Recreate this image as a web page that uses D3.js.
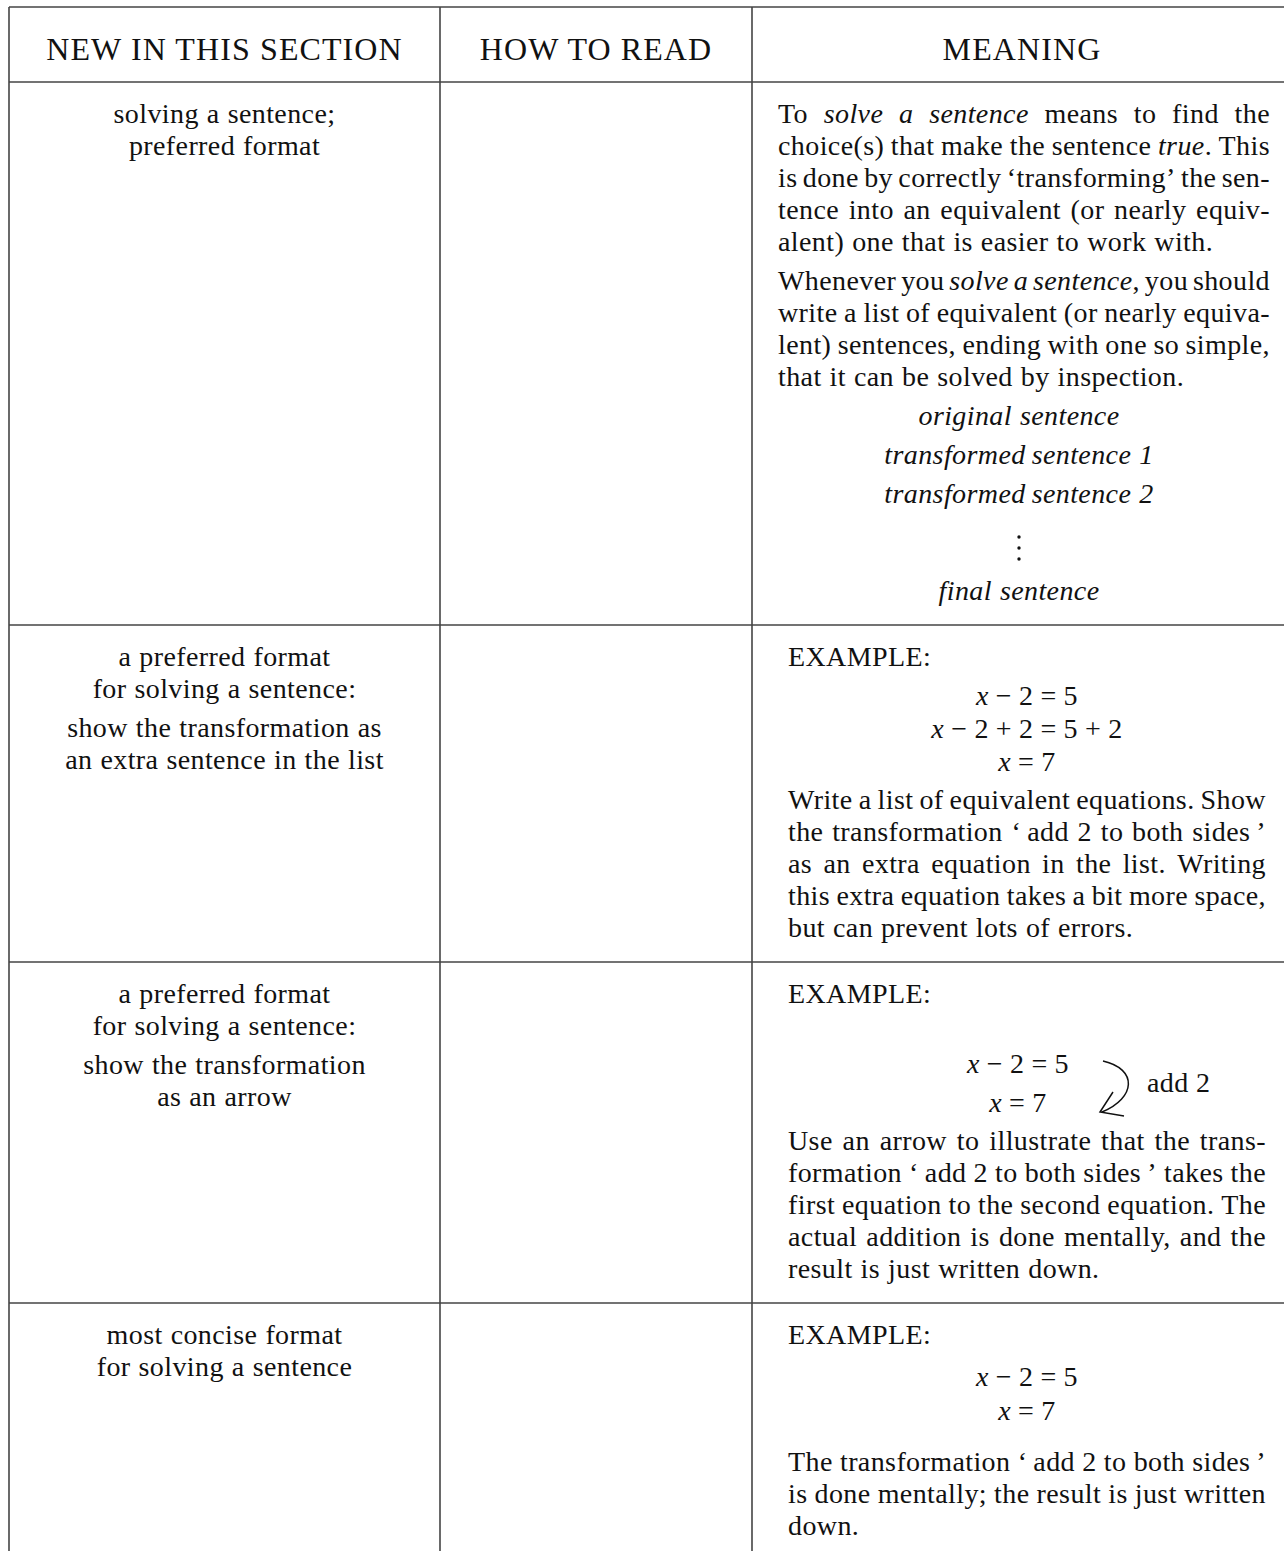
<!DOCTYPE html>
<html>
<head>
<meta charset="utf-8">
<script src="https://cdn.jsdelivr.net/npm/d3@7"></script>
<style>
  html, body { margin: 0; padding: 0; background: #fff; }
  svg { display: block; }
</style>
</head>
<body>
<div id="table"></div>
<script>
// ---- content ----
const headers = ["NEW IN THIS SECTION", "HOW TO READ", "MEANING"];

// left column: one entry per row, each a list of paragraphs (lines)
const newItems = [
    [["solving a sentence;", "preferred format"]],
    [["a preferred format", "for solving a sentence:"], ["show the transformation as", "an extra sentence in the list"]],
    [["a preferred format", "for solving a sentence:"], ["show the transformation", "as an arrow"]],
    [["most concise format", "for solving a sentence"]]
];

const howToRead = ["", "", "", ""];

// row 1 of the meaning column (*...* = italic)
const meaningParagraphs = [
    ["To *solve a sentence* means to find the",
     "choice(s) that make the sentence *true*. This",
     "is done by correctly ‘transforming’ the sen-",
     "tence into an equivalent (or nearly equiv-",
     "alent) one that is easier to work with."],
    ["Whenever you *solve a sentence*, you should",
     "write a list of equivalent (or nearly equiva-",
     "lent) sentences, ending with one so simple,",
     "that it can be solved by inspection."]
];
const sentenceList = ["*original sentence*", "*transformed\u2009sentence 1*", "*transformed\u2009sentence 2*", "VDOTS", "*final sentence*"];

// rows 2-4 of the meaning column
const exampleLabel = "EXAMPLE:";
const exampleEquations = [
    ["*x* − 2 = 5", "*x* − 2 + 2 = 5 + 2", "*x* = 7"],
    ["*x* − 2 = 5", "*x* = 7"],
    ["*x* − 2 = 5", "*x* = 7"]
];
const arrowLabel = "add 2";
const exampleNotes = [
    ["Write a list of equivalent equations. Show",
     "the transformation ‘\u2009add 2 to both sides\u2009’",
     "as an extra equation in the list. Writing",
     "this extra equation takes a bit more space,",
     "but can prevent lots of errors."],
    ["Use an arrow to illustrate that the trans-",
     "formation ‘\u2009add 2 to both sides\u2009’ takes the",
     "first equation to the second equation. The",
     "actual addition is done mentally, and the",
     "result is just written down."],
    ["The transformation ‘\u2009add 2 to both sides\u2009’",
     "is done mentally; the result is just written",
     "down."]
];

// ---- layout ----
const W = 1284, H = 1551;
const FONT = "'Liberation Serif', 'Times New Roman', serif";
const SIZE = 28, LS = 0.4, SPACE = 8;
const LINE = 32, PAR = 39, FIRST = 41, BOTTOM = 25;
const colX = [9, 440, 752, 1292];
const tableTop = 7, headerBottom = 82, headerBase = 60;
const row1Text = [778, 1270];
const exText = [788, 1266];
const exampleSpacing = [
    {eqGap: 39, eqStep: 33, noteGap: 38, eqCx: 1027, arrow: false},
    {eqGap: 70, eqStep: 39, noteGap: 38, eqCx: 1018, arrow: true},
    {eqGap: 42, eqStep: 34, noteGap: 51, eqCx: 1027, arrow: false}
];

const svg = d3.select("#table").append("svg")
    .attr("width", W)
    .attr("height", H)
    .style("font-family", FONT)
    .style("fill", "#111");

const linesG = svg.append("g")
    .attr("stroke", "#444")
    .attr("stroke-width", 1.6)
    .attr("fill", "none");
const textG = svg.append("g")
    .attr("font-size", SIZE)
    .attr("letter-spacing", LS);

function parseLine(str) {
    const words = [];
    let it = false, word = [], seg = "";
    const flush = () => { if (seg) { word.push({t: seg, it}); seg = ""; } };
    for (const ch of str) {
        if (ch === "*") { flush(); it = !it; }
        else if (ch === " ") { flush(); if (word.length) words.push(word); word = []; }
        else seg += ch;
    }
    flush();
    if (word.length) words.push(word);
    return words;
}

// draws one line word by word so it can be justified like the source
function drawLine(str, x0, x1, y, align, space = SPACE) {
    const words = parseLine(str);
    const nodes = words.map(w => {
        const t = textG.append("text").attr("y", y);
        w.forEach(s => t.append("tspan")
            .attr("font-style", s.it ? "italic" : null)
            .text(s.t));
        return t;
    });
    const widths = nodes.map(n => n.node().getComputedTextLength());
    const sum = d3.sum(widths);
    let gap = space, x = x0;
    if (align === "justify" && words.length > 1) {
        gap = (x1 - x0 - sum) / (words.length - 1);
    } else if (align === "center") {
        x = (x0 + x1) / 2 - (sum + gap * (words.length - 1)) / 2;
    }
    nodes.forEach((n, i) => { n.attr("x", x); x += widths[i] + gap; });
}

function drawParagraph(lines, x0, x1, y) {
    lines.forEach((l, i) => drawLine(l, x0, x1, y + i * LINE, i < lines.length - 1 ? "justify" : "left"));
    return y + (lines.length - 1) * LINE;
}

// ---- header ----
headers.forEach((h, i) => {
    textG.append("text")
        .attr("x", (colX[i] + colX[i + 1]) / 2)
        .attr("y", headerBase)
        .attr("text-anchor", "middle")
        .attr("font-size", 32)
        .attr("letter-spacing", 1.1)
        .text(h);
});

// ---- meaning column, row 1 ----
const rowTops = [headerBottom];
let y = headerBottom + FIRST;
meaningParagraphs.forEach((p, i) => {
    if (i > 0) y += PAR;
    y = drawParagraph(p, row1Text[0], row1Text[1], y);
});
sentenceList.forEach((s, i) => {
    const prev = sentenceList[i - 1];
    y += (s === "VDOTS" || prev === "VDOTS") ? 48.5 : PAR;
    if (s === "VDOTS") {
        textG.selectAll(null).data([-14.5, -3.5, 7.5]).join("circle")
            .attr("cx", 1019).attr("cy", d => y + d).attr("r", 1.7);
    } else {
        drawLine(s, row1Text[0] - 12, row1Text[1] + 2, y, "center");
    }
});
rowTops.push(y + BOTTOM);

// ---- meaning column, rows 2-4 ----
exampleEquations.forEach((eqs, r) => {
    const sp = exampleSpacing[r];
    const top = rowTops[rowTops.length - 1];
    let yy = top + FIRST;
    drawLine(exampleLabel, exText[0], exText[1], yy, "left");
    yy += sp.eqGap;
    const eqYs = [];
    eqs.forEach((e, i) => {
        if (i > 0) yy += sp.eqStep;
        eqYs.push(yy);
        drawLine(e, sp.eqCx - 300, sp.eqCx + 300, yy, "center", 7);
    });
    if (sp.arrow) {
        const cx = sp.eqCx, y1 = eqYs[0], y2 = eqYs[eqYs.length - 1];
        const p = d3.path();
        p.moveTo(cx + 85, y1 - 12);
        p.bezierCurveTo(cx + 120, y1 - 4, cx + 118, y2 - 14, cx + 84, y2);
        p.moveTo(cx + 95, y2 - 20);
        p.lineTo(cx + 82, y2);
        p.lineTo(cx + 106, y2 + 4);
        linesG.append("path").attr("d", p.toString()).attr("stroke", "#111").attr("stroke-width", 1.5);
        textG.append("text").attr("x", cx + 129).attr("y", (y1 + y2) / 2 - 1).text(arrowLabel);
    }
    yy += sp.noteGap;
    yy = drawParagraph(exampleNotes[r], exText[0], exText[1], yy);
    rowTops.push(yy + BOTTOM);
});

// ---- left column ----
newItems.forEach((paras, r) => {
    let yy = rowTops[r] + FIRST;
    paras.forEach((lines, i) => {
        if (i > 0) yy += PAR;
        lines.forEach((l, j) => {
            if (j > 0) yy += LINE;
            drawLine(l, colX[0], colX[1], yy, "center");
        });
    });
});

// ---- rules ----
linesG.append("line")
    .attr("x1", colX[0]).attr("x2", W)
    .attr("y1", tableTop).attr("y2", tableTop);
linesG.selectAll(".hrule").data(rowTops.slice(0, 4)).join("line")
    .attr("class", "hrule")
    .attr("x1", colX[0]).attr("x2", W)
    .attr("y1", d => d).attr("y2", d => d);
linesG.selectAll(".vrule").data(colX.slice(0, 3)).join("line")
    .attr("class", "vrule")
    .attr("x1", d => d).attr("x2", d => d)
    .attr("y1", tableTop).attr("y2", H);
</script>
</body>
</html>
